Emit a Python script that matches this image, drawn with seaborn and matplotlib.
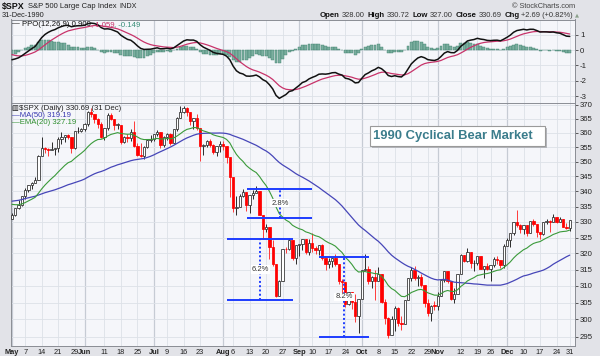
import numpy as np
import pandas as pd
import matplotlib
matplotlib.use("Agg")
import matplotlib.pyplot as plt
import seaborn as sns
from matplotlib.transforms import IdentityTransform
from matplotlib.patches import Rectangle
from matplotlib.ticker import FixedLocator, FixedFormatter, NullLocator, NullFormatter

# ---------------- data (S&P 500, 1990, read/estimated from the chart) ----------------
# closes Feb-Apr 1990, only used to warm up the moving averages / PPO
warmup_closes = [
    328.79, 330.92, 331.85, 329.66, 333.75, 332.96, 333.62, 330.08, 331.02, 332.01,
    334.89, 332.72, 327.99, 327.67, 325.70, 324.15, 328.67, 330.26, 331.89,
    332.74, 335.54, 333.74, 337.93, 336.95, 340.27, 337.93, 338.67, 336.00, 336.87,
    338.07, 341.91, 343.53, 341.57, 339.74, 335.69, 337.22, 337.63, 341.50, 342.00,
    340.79, 339.94,
    338.70, 343.64, 341.09, 340.73, 340.08, 341.37, 342.07, 341.92, 344.34, 344.74,
    344.68, 340.72, 338.09, 335.12, 331.05, 330.36, 332.03, 332.92, 329.11, 330.80,
]

holidays = ["1990-05-28", "1990-07-04", "1990-09-03", "1990-11-22", "1990-12-25"]

opens = [
    # May
    330.80, 332.25, 334.48, 335.57, 338.39, 340.53, 342.01, 342.86, 343.82, 352.00, 354.75,
    354.28, 354.00, 354.47, 354.64, 358.00, 358.43, 359.29, 358.41, 354.58, 360.65, 360.86,
    # Jun
    361.23, 363.16, 367.40, 366.64, 364.96, 363.15, 358.71, 361.63, 366.25, 364.90, 362.90,
    362.91, 356.88, 358.47, 358.15, 360.47, 355.43, 352.31, 352.06, 355.14, 357.63,
    # Jul
    358.02, 359.54, 360.16, 355.68, 358.42, 359.52, 356.49, 361.23, 365.45, 367.31, 368.95,
    367.52, 364.22, 365.32, 361.61, 355.31, 355.79, 357.09, 355.91, 353.44, 355.55,
    # Aug
    356.15, 355.52, 351.48, 344.86, 334.43, 334.83, 338.35, 339.94, 335.52, 338.84, 339.39,
    340.06, 332.39, 327.83, 328.51, 321.86, 316.55, 307.06, 311.51, 321.44, 321.34, 324.19, 318.71,
    # Sep
    322.56, 323.09, 324.39, 320.46, 323.40, 321.63, 321.04, 322.54, 318.65, 316.83, 317.77,
    318.60, 316.60, 311.48, 311.32, 304.59, 308.26, 305.06, 300.97,
    # Oct
    306.05, 314.94, 315.21, 311.40, 312.69, 311.50, 313.48, 305.10, 300.39, 295.46, 300.03,
    303.23, 298.92, 298.76, 305.74, 312.48, 314.76, 312.36, 312.60, 310.17, 304.71, 301.88, 304.06,
    # Nov
    304.00, 307.02, 311.85, 314.59, 311.62, 306.01, 307.61, 313.74, 319.48, 317.67, 320.40,
    317.02, 317.12, 319.34, 315.31, 316.03, 315.10, 316.51, 318.10, 317.95, 316.42,
    # Dec
    322.22, 324.10, 326.35, 329.92, 329.07, 327.75, 328.89, 326.44, 330.19, 329.34, 326.82,
    326.02, 330.05, 330.20, 330.12, 331.75, 329.90, 330.85, 328.29, 328.00,
]
highs = [
    332.83, 334.48, 337.06, 338.46, 341.07, 342.01, 343.08, 344.98, 352.31, 358.41, 355.09,
    354.68, 356.92, 354.64, 358.41, 360.50, 359.29, 359.56, 358.41, 360.65, 362.26, 361.82,
    363.54, 367.64, 368.78, 366.64, 365.22, 363.83, 361.63, 367.13, 367.16, 364.90, 363.57,
    362.91, 358.82, 359.55, 361.29, 364.21, 356.37, 356.48, 355.43, 357.90, 359.22,
    359.69, 360.90, 360.16, 358.98, 360.05, 360.02, 361.23, 365.66, 369.68, 369.78, 369.40,
    367.52, 365.32, 366.64, 361.61, 356.07, 357.63, 357.98, 356.03, 355.59, 357.22,
    357.04, 355.52, 351.48, 344.86, 338.63, 339.21, 340.69, 339.94, 338.92, 340.48, 341.92,
    340.06, 332.39, 329.26, 328.51, 324.15, 316.55, 311.75, 321.44, 322.09, 324.82, 324.19, 322.56,
    323.09, 324.52, 324.39, 324.64, 326.53, 322.17, 322.54, 322.84, 318.65, 318.44, 318.61,
    319.97, 316.60, 312.17, 311.32, 308.28, 308.28, 307.47, 306.05,
    314.94, 319.69, 316.05, 313.13, 314.79, 315.83, 313.48, 306.01, 300.70, 300.98, 304.09,
    303.71, 301.12, 305.74, 312.48, 315.64, 315.93, 313.43, 313.71, 310.17, 306.14, 304.35, 305.34,
    308.27, 311.87, 314.62, 314.59, 311.62, 309.22, 313.77, 319.76, 319.48, 321.71, 320.40,
    317.83, 319.34, 319.34, 316.06, 317.09, 316.51, 319.00, 319.25, 317.95, 323.02,
    324.90, 326.35, 329.92, 333.98, 329.38, 328.97, 328.89, 330.35, 330.80, 329.34, 326.82,
    330.05, 330.80, 330.60, 332.48, 331.75, 331.69, 331.04, 329.61, 330.72,
]
lows = [
    330.80, 331.80, 334.14, 335.16, 337.51, 339.95, 340.90, 342.77, 343.82, 352.00, 352.84,
    351.95, 354.00, 352.49, 353.38, 356.09, 356.99, 357.87, 352.89, 354.55, 360.00, 360.23,
    360.86, 362.44, 365.50, 363.59, 361.65, 358.31, 357.52, 361.00, 364.50, 361.05, 361.48,
    356.24, 356.34, 356.78, 357.02, 354.96, 351.87, 351.54, 350.94, 354.89, 356.84,
    357.28, 359.01, 354.86, 355.13, 357.68, 355.93, 356.49, 360.71, 365.45, 367.24, 365.89,
    362.98, 361.39, 360.97, 350.09, 352.22, 355.09, 355.04, 352.68, 351.93, 353.51,
    354.07, 349.73, 338.21, 333.27, 332.22, 334.83, 338.26, 333.62, 332.95, 337.59, 339.38,
    332.33, 324.63, 326.66, 318.18, 316.16, 306.56, 307.06, 311.51, 319.99, 320.93, 317.87, 316.59,
    319.11, 320.99, 319.73, 319.53, 320.31, 319.80, 319.60, 318.02, 314.76, 315.38, 315.80,
    316.06, 310.55, 307.98, 303.58, 304.23, 303.06, 299.10, 295.98,
    306.05, 314.94, 310.63, 309.45, 305.76, 311.50, 304.72, 298.73, 294.51, 295.44, 296.51,
    298.16, 296.91, 298.76, 305.74, 311.63, 311.77, 309.98, 309.70, 303.80, 301.06, 299.44, 302.71,
    302.89, 307.02, 311.30, 310.92, 305.72, 304.96, 307.61, 313.73, 317.26, 317.23, 315.56,
    314.40, 316.49, 315.26, 312.40, 314.71, 311.55, 315.89, 316.62, 315.36, 315.42,
    322.22, 321.93, 325.66, 328.37, 326.39, 326.15, 325.40, 326.44, 328.64, 325.16, 324.48,
    325.81, 329.41, 326.79, 330.12, 329.65, 329.85, 328.23, 327.76, 327.00,
]
closes = [
    332.25, 334.48, 335.57, 338.39, 340.53, 342.01, 342.86, 343.82, 352.00, 354.75, 354.28,
    354.00, 354.47, 354.64, 358.00, 358.43, 359.29, 358.41, 354.58, 360.65, 360.86, 361.23,
    363.16, 367.40, 366.64, 364.96, 363.15, 358.71, 361.63, 366.25, 364.90, 362.90, 362.91,
    356.88, 358.47, 358.15, 360.47, 355.43, 352.31, 352.06, 355.14, 357.63, 358.02,
    359.54, 360.16, 355.68, 358.42, 359.52, 356.49, 361.23, 365.45, 367.31, 368.95, 367.52,
    364.22, 365.32, 361.61, 355.31, 355.79, 357.09, 355.91, 353.44, 355.55, 356.15,
    355.52, 351.48, 344.86, 334.43, 334.83, 338.35, 339.94, 335.52, 338.84, 339.39, 340.06,
    332.39, 327.83, 328.51, 321.86, 316.55, 307.06, 311.51, 321.44, 321.34, 324.19, 318.71, 322.56,
    323.09, 324.39, 320.46, 323.40, 321.63, 321.04, 322.54, 318.65, 316.83, 317.77, 318.60,
    316.60, 311.48, 311.32, 304.59, 308.26, 305.06, 300.97, 306.05,
    314.94, 315.21, 311.40, 312.69, 311.50, 313.48, 305.10, 300.39, 295.46, 300.03, 303.23,
    298.92, 298.76, 305.74, 312.48, 314.76, 312.36, 312.60, 310.17, 304.71, 301.88, 304.06, 304.00,
    307.02, 311.85, 314.59, 311.62, 306.01, 307.61, 313.74, 319.48, 317.67, 320.40, 317.02,
    317.12, 319.34, 315.31, 316.03, 315.10, 316.51, 318.10, 317.95, 316.42, 322.22,
    324.10, 326.35, 329.92, 329.07, 327.75, 328.89, 326.44, 330.19, 329.34, 326.82, 326.02,
    330.05, 330.20, 330.12, 331.75, 329.90, 330.85, 328.29, 328.00, 330.69,
]

tick_dates = [
    "1990-05-01", "1990-05-07", "1990-05-14", "1990-05-21", "1990-05-29",
    "1990-06-01", "1990-06-11", "1990-06-18", "1990-06-25",
    "1990-07-02", "1990-07-09", "1990-07-16", "1990-07-23",
    "1990-08-01", "1990-08-06", "1990-08-13", "1990-08-20", "1990-08-27",
    "1990-09-04", "1990-09-10", "1990-09-17", "1990-09-24",
    "1990-10-01", "1990-10-08", "1990-10-15", "1990-10-22", "1990-10-29",
    "1990-11-01", "1990-11-12", "1990-11-19", "1990-11-26",
    "1990-12-03", "1990-12-10", "1990-12-17", "1990-12-24", "1990-12-31",
]
tick_labels = [
    "May", "7", "14", "21", "29", "Jun", "11", "18", "25", "Jul", "9", "16", "23",
    "Aug", "6", "13", "20", "27", "Sep", "10", "17", "24", "Oct", "8", "15", "22", "29",
    "Nov", "12", "19", "26", "Dec", "10", "17", "24", "31",
]

price_ticks = list(range(295, 371, 5))
ppo_ticks = [-3, -2, -1, 0, 1]

# drawdown annotations (x in trading-day index units, y in price)
ann_labels = ["2.8%", "6.2%", "8.2%"]
ann_top = [340.9, 324.6, 319.0]
ann_bottom = [331.4, 305.8, 294.8]
ann_x0 = [71.1, 65.2, 93.0]
ann_x1 = [90.9, 85.2, 108.2]
ann_xm = [81.2, 75.2, 100.6]

# ---------------- derived indicators ----------------
trade_days = pd.bdate_range("1990-05-01", "1990-12-31")
trade_days = trade_days[~trade_days.isin(pd.to_datetime(holidays))]
assert len(trade_days) == len(closes) == len(opens) == len(highs) == len(lows)
idx = np.arange(len(closes))
pos = {d: i for i, d in enumerate(trade_days)}
tick_pos = [pos[pd.Timestamp(d)] for d in tick_dates]

full = pd.Series(warmup_closes + closes, dtype=float)
n0 = len(warmup_closes)
ema12 = full.ewm(span=12, adjust=False).mean()
ema26 = full.ewm(span=26, adjust=False).mean()
ppo = (ema12 - ema26) / ema26 * 100
sig = ppo.ewm(span=9, adjust=False).mean()
hist = ppo - sig
ma50 = full.rolling(50).mean()
ema20 = full.ewm(span=20, adjust=False).mean()
df = pd.DataFrame({
    "i": idx,
    "ppo": ppo.values[n0:], "sig": sig.values[n0:], "hist": hist.values[n0:],
    "ma50": ma50.values[n0:], "ema20": ema20.values[n0:],
})

# ---------------- figure ----------------
sns.set_theme(style="white")
plt.rcParams["font.family"] = ["Liberation Sans", "DejaVu Sans"]

W, H = 600, 356
fig = plt.figure(figsize=(W / 100, H / 100), dpi=100, facecolor="#e2e3e8")


def fx(x):
    return x / W


def fy(y):
    return 1 - y / H


L, R = 11, 575
ppo_top, split, price_bot = 19.5, 103, 346
ax1 = fig.add_axes([fx(L), fy(split), fx(R) - fx(L), fy(ppo_top) - fy(split)])
ax2 = fig.add_axes([fx(L), fy(price_bot), fx(R) - fx(L), fy(split) - fy(price_bot)], sharex=ax1)

GRID = "#dde1e8"
MGRID = "#c6cbd4"
for ax in (ax1, ax2):
    ax.set_facecolor("#f5f6fa")
    for p, lab in zip(tick_pos, tick_labels):
        month = lab.isalpha()
        ax.axvline(p, color=MGRID if month else GRID, lw=0.9 if month else 0.6, zorder=0.5)
    ax.grid(axis="y", color=GRID, lw=0.6)
    ax.grid(axis="x", visible=False)
    ax.set_axisbelow(True)
    for s in ax.spines.values():
        s.set_color("#8a8d94")
        s.set_linewidth(0.7)
    ax.yaxis.tick_right()
    ax.tick_params(axis="y", labelsize=5.6, length=2, pad=1.5, colors="#222222",
                   direction="out", width=0.5)
    ax.set_xlabel("")
    ax.set_ylabel("")

# ---- PPO panel ----
ax1.bar(df["i"], df["hist"], width=0.9, color="#7aae9e", edgecolor="#3f7f6e",
        linewidth=0.3, zorder=2)
sns.lineplot(data=df, x="i", y="sig", ax=ax1, color="#c8336a", lw=0.9, zorder=3)
sns.lineplot(data=df, x="i", y="ppo", ax=ax1, color="#111111", lw=1.1, zorder=4)
ax1.set_ylim(-3.45, 2.0)
ax1.yaxis.set_major_locator(FixedLocator(ppo_ticks))
ax1.yaxis.set_major_formatter(FixedFormatter([str(t) for t in ppo_ticks]))
ax1.set_xlabel("")
ax1.set_ylabel("")
ax1.tick_params(axis="x", labelbottom=False, length=0)

# ---- price panel ----
ax2.set_yscale("log")
RED = "#ff0000"
DARK = "#2a2a2a"
prev = [warmup_closes[-1]] + closes[:-1]
o = np.array(opens)
c = np.array(closes)
hi_ = np.array(highs)
lo_ = np.array(lows)
down = c < np.array(prev)
cols = np.where(down, RED, DARK)
wick_cols = np.where(down, "#ff3a3a", DARK)
ax2.vlines(idx, lo_, hi_, colors=wick_cols, lw=0.7, zorder=3)
body_lo = np.minimum(o, c)
body_hi = np.maximum(o, c)
body_h = np.maximum(body_hi - body_lo, 0.12)
face = np.where(c < o, cols, "white")
ax2.bar(idx, body_h, bottom=body_lo, width=0.7, color=face, edgecolor=cols,
        linewidth=0.55, zorder=4)
sns.lineplot(data=df, x="i", y="ma50", ax=ax2, color="#4646b8", lw=0.9, zorder=5)
sns.lineplot(data=df, x="i", y="ema20", ax=ax2, color="#3a9a3a", lw=0.8, zorder=5)
ax2.set_ylim(292.3, 370.7)
ax2.yaxis.set_major_locator(FixedLocator(price_ticks))
ax2.yaxis.set_major_formatter(FixedFormatter([str(t) for t in price_ticks]))
ax2.yaxis.set_minor_locator(NullLocator())
ax2.yaxis.set_minor_formatter(NullFormatter())
ax2.set_xlabel("")
ax2.set_ylabel("")

ax2.set_xlim(-0.3, 170.6)
ax2.set_xticks(tick_pos)
ax2.set_xticklabels(tick_labels)
ax2.tick_params(axis="x", labelsize=5.3, length=0, pad=1.8, colors="#222222")
for t in ax2.get_xticklabels():
    if t.get_text().isalpha():
        t.set_fontweight("bold")

BLUE = "#1e3cff"
for lab, top, bot, x0, x1, xm in zip(ann_labels, ann_top, ann_bottom, ann_x0, ann_x1, ann_xm):
    ax2.hlines([top, bot], x0, x1, colors=BLUE, lw=1.4, zorder=6)
    ax2.vlines(xm, bot, top, colors=BLUE, lw=1.4, linestyles=(0, (1, 1.2)), zorder=6)
    ax2.text(xm, np.sqrt(top * bot), lab, ha="center", va="center", fontsize=5.5,
             color="#333333", zorder=7,
             bbox=dict(fc="white", ec="none", pad=0.6))

# ---------------- texts ----------------
renderer = fig.canvas.get_renderer()


def rainbow(pieces, x, y, ha="left"):
    texts, widths = [], []
    for s, kw, gap in pieces:
        t = fig.text(0, 0, s, transform=IdentityTransform(), ha="left", va="center",
                     zorder=10, **kw)
        w = t.get_window_extent(renderer).width
        texts.append(t)
        widths.append(w + gap)
    total = sum(widths)
    cur = x if ha == "left" else x - total
    for t, w in zip(texts, widths):
        t.set_position((cur, H - y))
        cur += w


rainbow([("$SPX", dict(fontsize=6.4, fontweight="bold", color="#111111"), 3),
         ("S&P 500 Large Cap Index", dict(fontsize=5.5, color="#222222"), 3),
         ("INDX", dict(fontsize=5.2, color="#222222"), 0)], 2, 6.5)
fig.text(fx(2), fy(15.5), "31-Dec-1990", fontsize=5.3, color="#222222", va="center")
fig.text(fx(575), fy(6.3), "\u00a9 StockCharts.com", fontsize=5.3, color="#444444",
         va="center", ha="right")
B = dict(fontsize=5.6, fontweight="bold", color="#111111")
N = dict(fontsize=5.4, color="#333333")
rainbow([("Open", B, 2), ("328.00", N, 3), ("High", B, 2), ("330.72", N, 3),
         ("Low", B, 2), ("327.00", N, 3), ("Close", B, 2), ("330.69", N, 3),
         ("Chg", B, 2), ("+2.69 (+0.82%)", N, 2),
         ("\u25b2", dict(fontsize=3.8, color="#8aa08a", family="DejaVu Sans"), 0)],
        579, 15.2, ha="right")

rainbow([("\u2014", dict(fontsize=5.6, color="#111111"), 2),
         ("PPO(12,26,9) 0.909", dict(fontsize=5.6, color="#111111"), 0),
         (", 1.059", dict(fontsize=5.6, color="#c8336a"), 0),
         (", -0.149", dict(fontsize=5.6, color="#3a8f7a"), 0)], 12, 24.2)

rainbow([("\u25a5", dict(fontsize=5.2, color="#111111", family="DejaVu Sans"), 1),
         ("$SPX (Daily) 330.69 (31 Dec)", dict(fontsize=5.6, color="#222222"), 0)], 11.5, 108.3)
rainbow([("\u2014MA(50) 319.19", dict(fontsize=5.6, color="#3838b0"), 0)], 12, 115.4)
rainbow([("\u2014EMA(20) 327.19", dict(fontsize=5.6, color="#2f8f2f"), 0)], 12, 122.5)

# title box
fig.add_artist(Rectangle((fx(372), fy(147.7)), 175 / W, 20 / H, transform=fig.transFigure,
                         facecolor="#b4b6bb", edgecolor="none", zorder=8))
fig.add_artist(Rectangle((fx(370), fy(145.7)), 175 / W, 20 / H, transform=fig.transFigure,
                         facecolor="white", edgecolor="#9a9a9a", lw=0.8, zorder=9))
fig.text(fx(373), fy(135.9), "1990 Cyclical Bear Market", fontsize=9.4, fontweight="bold",
         color="#3b7d8c", ha="left", va="center", zorder=10)

fig.savefig("out.png", dpi=100, facecolor=fig.get_facecolor())
